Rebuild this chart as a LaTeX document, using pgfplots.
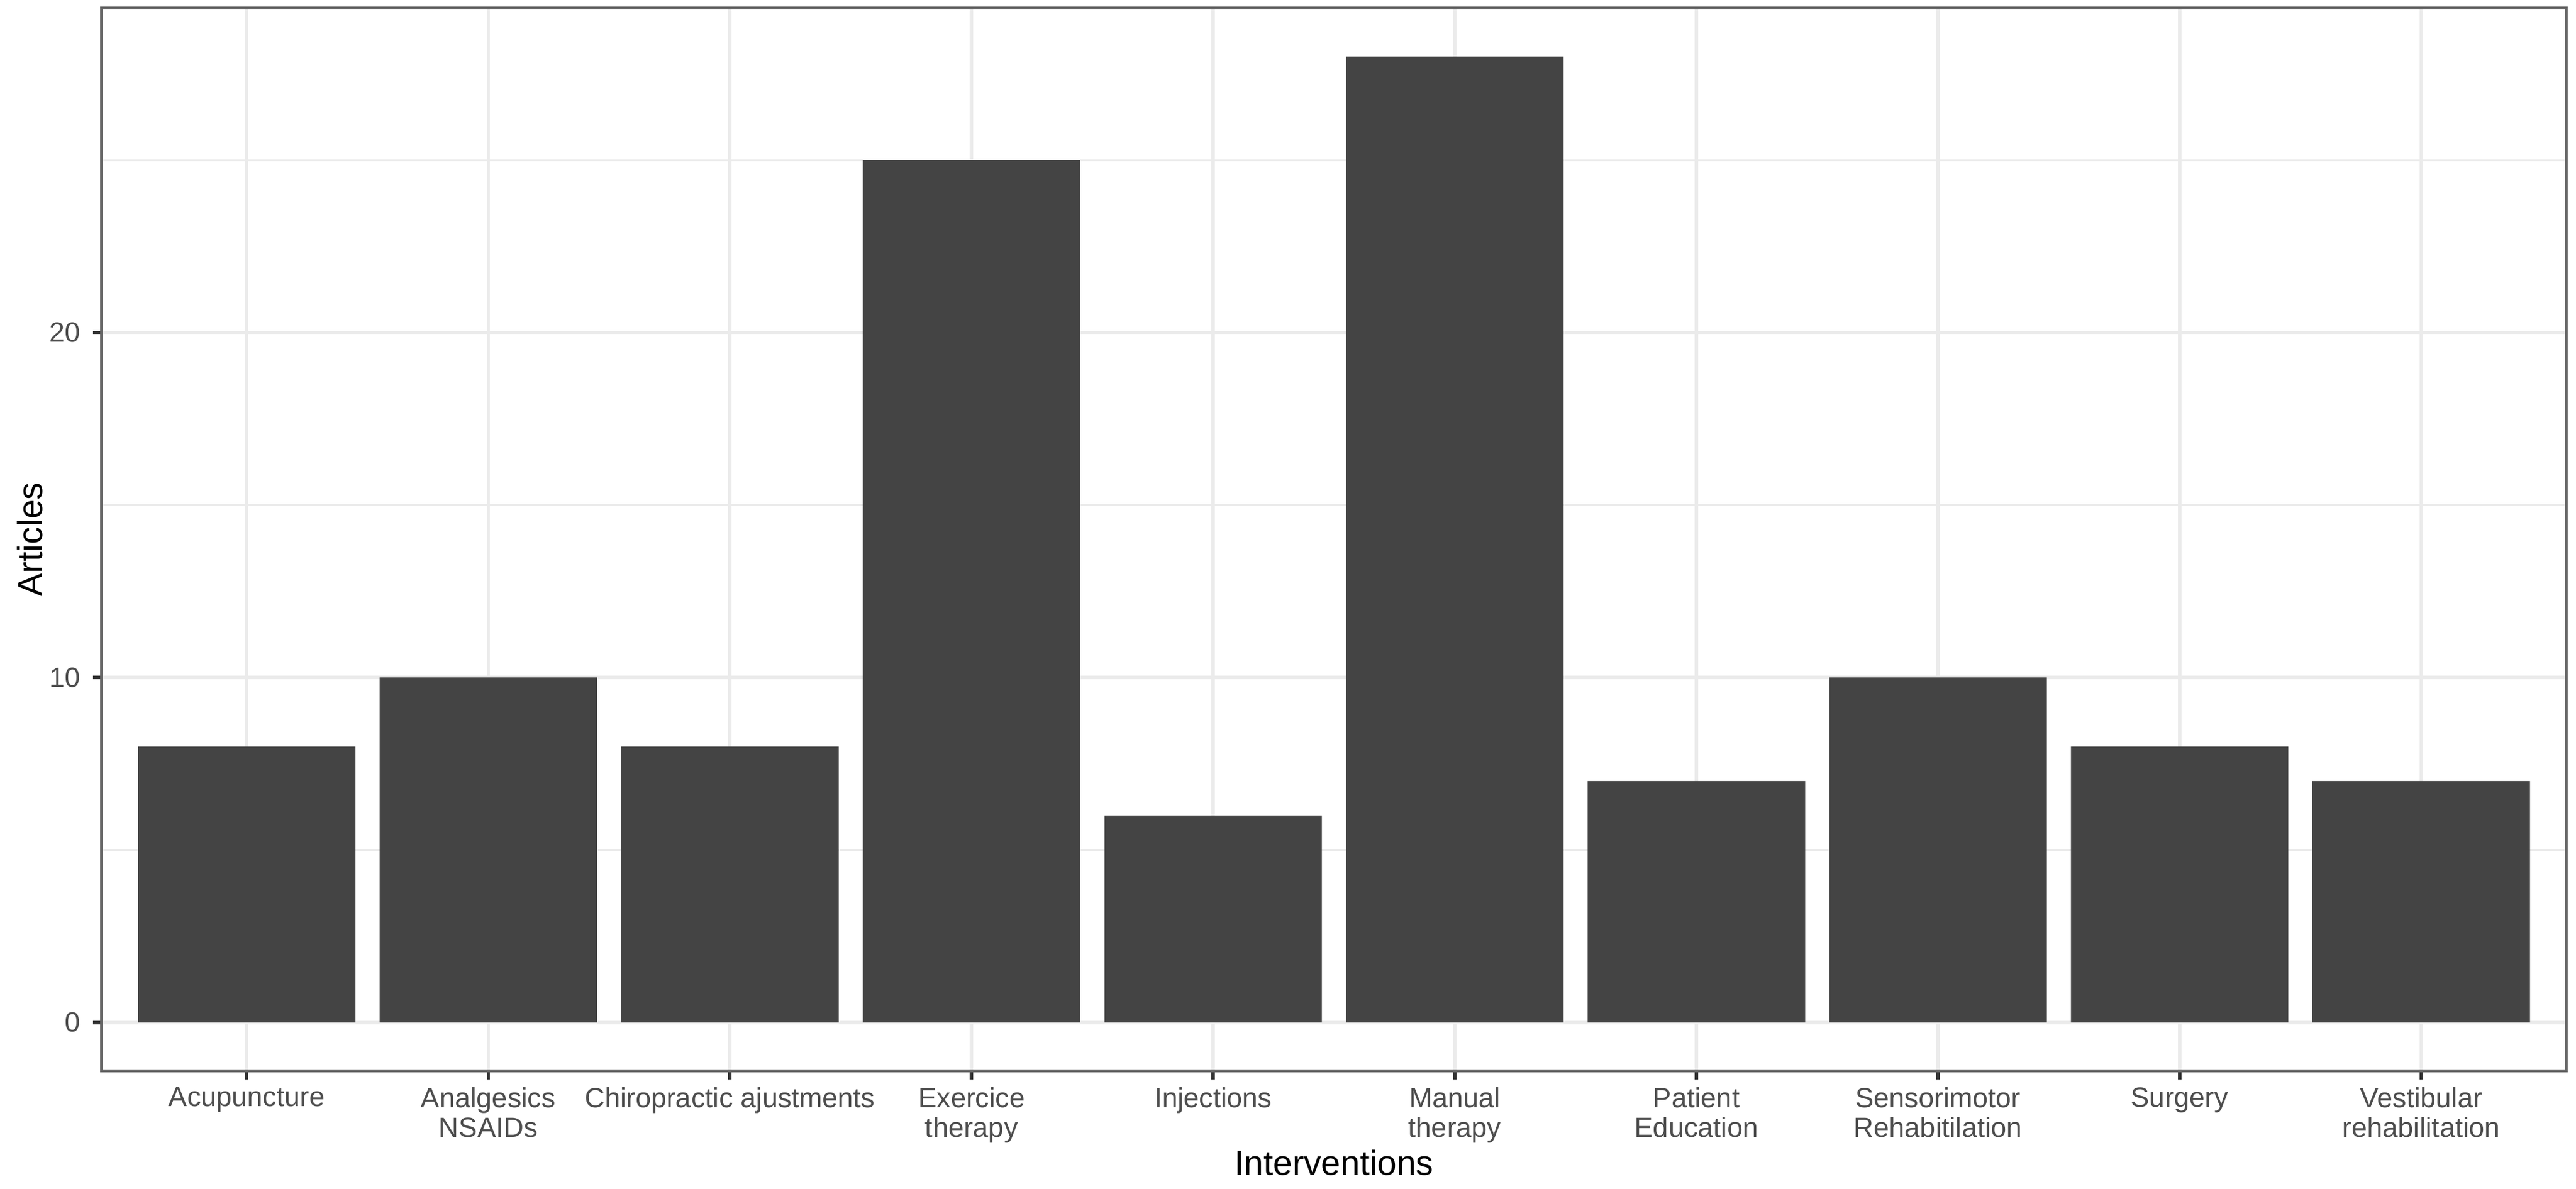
\documentclass[border=0pt]{standalone}
\usepackage{fontspec}
\setmainfont{Liberation Sans}
\usepackage{pgfplots}
\pgfplotsset{compat=1.18}

\definecolor{bargrey}{HTML}{444444}
\definecolor{gridgrey}{HTML}{EBEBEB}
\definecolor{framegrey}{HTML}{666666}
\definecolor{tickgrey}{HTML}{333333}
\definecolor{ticktext}{HTML}{4D4D4D}

\begin{document}
\begin{tikzpicture}
\begin{axis}[
    scale only axis,
    width=780pt, height=336.4pt,
    xmin=0.4, xmax=10.6,
    ymin=-1.4, ymax=29.4,
    ybar, bar width=0.9,
    clip=false,
    axis line style={framegrey, line width=0.9pt},
    tick style={tickgrey, line width=1.07pt},
    tick align=outside,
    major tick length=2.75pt,
    minor tick length=0pt,
    xtick pos=bottom, ytick pos=left,
    xtick={1,...,10},
    xticklabels={Acupuncture,{Analgesics\\NSAIDs},Chiropractic ajustments,{Exercice\\therapy},Injections,{Manual\\therapy},{Patient\\Education},{Sensorimotor\\Rehabitilation},Surgery,{Vestibular\\rehabilitation}},
    ytick={0,10,20},
    minor ytick={5,15,25},
    grid=both,
    major grid style={gridgrey, line width=1.07pt},
    minor grid style={gridgrey, line width=0.53pt},
    /pgf/number format/assume math mode=true,
    ticklabel style={font=\fontsize{8.8}{9.4}\selectfont, text=ticktext},
    xticklabel style={align=center, anchor=north, inner sep=0pt, yshift=-2.3pt},
    yticklabel style={anchor=east, inner sep=0pt, xshift=-3.9pt},
    xlabel={Interventions},
    ylabel={Articles},
    label style={font=\fontsize{11}{13}\selectfont, text=black},
    xlabel style={at={(axis description cs:0.5,-0.0865)}, anchor=center},
    ylabel style={at={(axis description cs:-0.0292,0.5)}, anchor=center},
]
% number of articles per intervention
\addplot[fill=bargrey, draw=none] coordinates {
    (1,8) (2,10) (3,8) (4,25) (5,6) (6,28) (7,7) (8,10) (9,8) (10,7)
};
% fixed page margins around the panel
\path ([xshift=-32.2pt,yshift=-37.4pt]rel axis cs:0,0) rectangle ([xshift=3.1pt,yshift=2.6pt]rel axis cs:1,1);
\end{axis}
\end{tikzpicture}
\end{document}
